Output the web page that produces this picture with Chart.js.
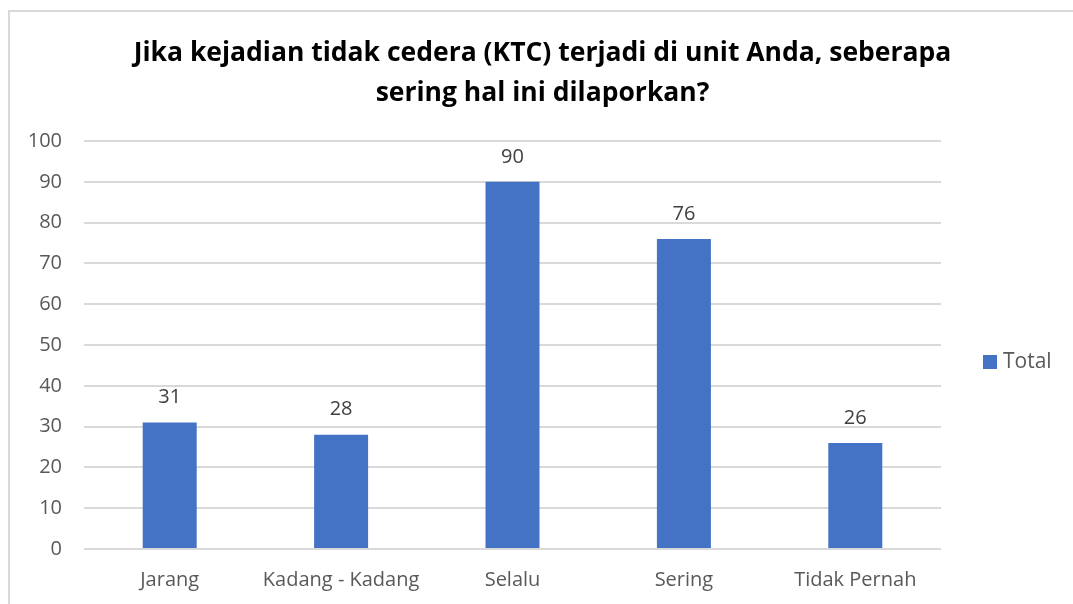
<!DOCTYPE html>
<html>
<head>
<meta charset="utf-8">
<script src="https://cdn.jsdelivr.net/npm/chart.js@4"></script>
<style>
  body { margin: 0; background: #fff; overflow: hidden; }
  #frame { position: absolute; left: 8px; top: 10px; width: 1200px; height: 700px; border: 2px solid #d9d9d9; }
  #myChart { position: absolute; left: 0; top: 0; }
</style>
</head>
<body>
<div id="frame"></div>
<canvas id="myChart" width="1073" height="604"></canvas>
<script>
let categories = ["Jarang", "Kadang - Kadang", "Selalu", "Sering", "Tidak Pernah"];
let totals = [31, 28, 90, 76, 26];
let yTicks = [0, 10, 20, 30, 40, 50, 60, 70, 80, 90, 100];
let titleLines = ["Jika kejadian tidak cedera (KTC) terjadi di unit Anda, seberapa", "sering hal ini dilaporkan?"];

// labels above the bars + the legend on the right
const barLabels = {
  id: "barLabels",
  afterDatasetsDraw(chart) {
    let ctx = chart.ctx;
    let ds = chart.data.datasets[0];
    ctx.save();
    ctx.font = "20px 'Open Sans'";
    ctx.fillStyle = "#404040";
    ctx.textAlign = "center";
    ctx.textBaseline = "middle";
    chart.getDatasetMeta(0).data.forEach((bar, i) => {
      ctx.fillText(ds.data[i], bar.x, bar.y - 25);
    });

    // legend
    let lx = chart.chartArea.right + 42;
    let ly = 362;
    ctx.fillStyle = ds.backgroundColor;
    ctx.fillRect(lx, ly - 7, 14, 14);
    ctx.font = "21px 'Open Sans'";
    ctx.fillStyle = "#595959";
    ctx.textAlign = "left";
    ctx.fillText(ds.label, lx + 20, ly);
    ctx.restore();
  }
};

const ctx = document.getElementById("myChart");
let chart = new Chart(ctx, {
  type: "bar",
  data: {
    labels: categories,
    datasets: [{
      label: "Total",
      data: totals,
      backgroundColor: "#4472C4",
      categoryPercentage: 1,
      barPercentage: 0.315
    }]
  },
  options: {
    responsive: false,
    animation: false,
    layout: { padding: { left: 12, right: 0, top: 0, bottom: -7 } },
    plugins: {
      title: {
        display: true,
        text: titleLines,
        color: "#000",
        font: { family: "'Open Sans'", size: 26.5, weight: "bold", lineHeight: 1.51 },
        padding: { top: 33, bottom: 28 }
      },
      legend: { display: false },
      tooltip: { enabled: false }
    },
    scales: {
      x: {
        grid: { display: false, drawTicks: false },
        border: { display: false },
        ticks: {
          color: "#595959",
          font: { family: "'Open Sans'", size: 20 },
          padding: 19,
          maxRotation: 0
        }
      },
      y: {
        min: 0,
        max: 100,
        afterBuildTicks: (scale) => { scale.ticks = yTicks.map(v => ({ value: v })); },
        afterFit: (scale) => { scale.width = 72; },
        grid: { color: "#d9d9d9", lineWidth: 2, drawTicks: false },
        border: { display: false },
        ticks: {
          color: "#595959",
          font: { family: "'Open Sans'", size: 20 },
          padding: 22
        }
      },
      // empty axis that keeps room for the legend
      legendSpace: {
        type: "linear",
        position: "right",
        min: 0,
        max: 100,
        afterFit: (scale) => { scale.width = 132; },
        grid: { display: false, drawTicks: false },
        border: { display: false },
        ticks: { display: false }
      }
    }
  },
  plugins: [barLabels]
});
</script>
</body>
</html>
